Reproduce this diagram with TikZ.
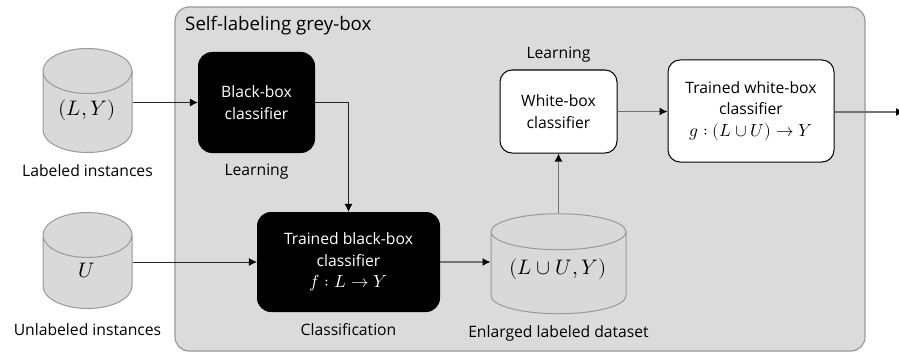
\documentclass[tikz,border=0pt]{standalone}
\usepackage{amsmath,amsfonts,amssymb}
\usepackage{fontspec}
\usepackage{unicode-math}
\setmainfont{Open Sans}
\setmathfont{Latin Modern Math}
\usetikzlibrary{shapes.geometric,positioning,arrows.meta}

\begin{document}
\begin{tikzpicture}[x=1pt,y=-1pt,->,>={Latex[length=8pt,width=8pt,color=black]},node distance=4pt,align=center,font=\fontsize{15.7}{21.5}\selectfont,
    greybox/.style={rectangle,rounded corners=14pt,draw=black!40,fill=black!14,line width=1.2pt},
    blackbox/.style={rectangle,rounded corners=14pt,fill=black,text=white,inner sep=0pt},
    whitebox/.style={rectangle,rounded corners=12pt,draw=black,fill=white,line width=1pt,inner sep=0pt},
    dataset/.style={cylinder,shape border rotate=90,aspect=1,draw=black!40,fill=black!15,line width=1pt,inner sep=0pt,text width=45pt},
    datatext/.style={font=\fontsize{21}{24}\selectfont},
    thinline/.style={draw=black!85,line width=.7pt},
    greyline/.style={draw=black!55,line width=1.3pt}]
    \useasboundingbox (0,0) rectangle (899,353);

    \node[greybox,minimum width=690pt,minimum height=344pt] (grey) at (520,179) {};
    \node[anchor=west,font=\fontsize{18.7}{22}\selectfont] (greytitle) at (181.7,26) {Self-labeling grey-box};

    % datasets
    \node[dataset,minimum width=89pt,minimum height=104pt] (LY) at (87.5,112) {};
    \node[dataset,minimum width=89pt,minimum height=96pt] (U) at (87.5,272) {};
    \node[dataset,aspect=0.8,minimum width=135pt,minimum height=100pt] (LUY) at (558.5,273) {};
    \node[datatext] (LYtext) at (87,110) {$(L,Y)$};
    \node[datatext] (Utext) at (87,271) {$U$};
    \node[datatext] (LUYtext) at (558,269) {$(L\cup U,Y)$};
    \node[below=8pt of LY] (LYlabel) {Labeled instances};
    \node[below=11.5pt of U] (Ulabel) {Unlabeled instances};
    \node[below=8pt of LUY] (LUYlabel) {Enlarged labeled dataset};

    % classifiers
    \node[blackbox,minimum width=117pt,minimum height=101pt] (bb) at (256.5,102.5) {Black-box\\classifier};
    \node[blackbox,minimum width=183pt,minimum height=100pt] (tbb) at (348.5,262) {Trained black-box\\classifier\\{\fontsize{17.5}{21.5}\selectfont$f:L\to Y$}};
    \node[whitebox,minimum width=117pt,minimum height=83pt] (wb) at (558.5,111.5) {White-box\\classifier};
    \node[whitebox,minimum width=166pt,minimum height=102pt] (twb) at (751,111) {Trained white-box\\classifier\\{\fontsize{17.5}{21.5}\selectfont$g:(L\cup U)\to Y$}};
    \node[below=7pt of bb] (bblabel) {Learning};
    \node[below=8pt of tbb] (tbblabel) {Classification};
    \node[above=4pt of wb] (wblabel) {Learning};
    \coordinate (out) at (904,112);

    \draw[thinline] (LY.east |- bb.west) -- (bb.west);
    \draw[thinline] (bb.east) -| (tbb.north);
    \draw[thinline] (U.east |- tbb.west) -- (tbb.west);
    \draw[greyline] (tbb.east) -- (LUY.west |- tbb.east);
    \draw[greyline] (LUY.north) -- (wb.south);
    \draw[greyline] (wb.east) -- (twb.west |- wb.east);
    \draw[greyline] (twb.east |- out) -- (out);
\end{tikzpicture}
\end{document}
